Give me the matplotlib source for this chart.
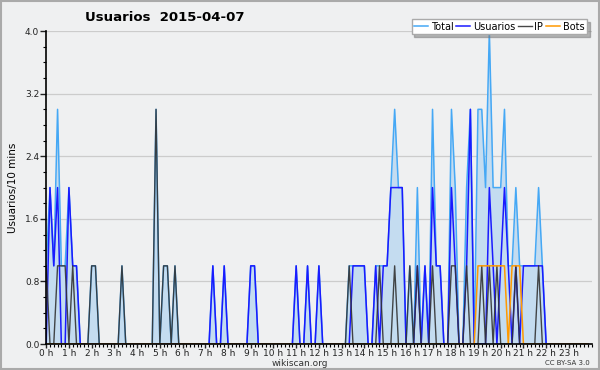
import matplotlib
matplotlib.use("Agg")
import matplotlib.pyplot as plt
from matplotlib.patches import Rectangle
from matplotlib.ticker import MultipleLocator, FormatStrFormatter

# One value per 10 minutes, 0h00 .. 23h50 (24 values = 4 hours per row)
usuarios = [
    0, 2, 1, 2, 0, 0, 2, 1, 1, 0, 0, 0, 0, 0, 0, 0, 0, 0, 0, 0, 0, 0, 0, 0,
    0, 0, 0, 0, 0, 0, 0, 0, 0, 0, 0, 0, 0, 0, 0, 0, 0, 0, 0, 0, 1, 0, 0, 1,
    0, 0, 0, 0, 0, 0, 1, 1, 0, 0, 0, 0, 0, 0, 0, 0, 0, 0, 1, 0, 0, 1, 0, 0,
    1, 0, 0, 0, 0, 0, 0, 0, 0, 1, 1, 1, 1, 0, 0, 1, 0, 1, 1, 2, 2, 2, 2, 0,
    0, 0, 1, 0, 1, 0, 2, 1, 1, 0, 0, 2, 1, 0, 0, 1, 3, 0, 0, 0, 0, 2, 1, 0,
    1, 2, 1, 0, 1, 0, 1, 1, 1, 1, 1, 1, 0, 0, 0, 0, 0, 0, 0, 0, 0, 0, 0, 0,
]
ip = [
    1, 0, 0, 1, 1, 1, 0, 1, 0, 0, 0, 0, 1, 1, 0, 0, 0, 0, 0, 0, 1, 0, 0, 0,
    0, 0, 0, 0, 0, 3, 0, 1, 1, 0, 1, 0, 0, 0, 0, 0, 0, 0, 0, 0, 0, 0, 0, 0,
    0, 0, 0, 0, 0, 0, 0, 0, 0, 0, 0, 0, 0, 0, 0, 0, 0, 0, 0, 0, 0, 0, 0, 0,
    0, 0, 0, 0, 0, 0, 0, 0, 1, 0, 0, 0, 0, 0, 0, 0, 1, 0, 0, 0, 1, 0, 0, 0,
    1, 0, 1, 0, 0, 0, 1, 0, 0, 0, 0, 1, 1, 0, 0, 1, 0, 0, 0, 1, 0, 1, 0, 1,
    0, 0, 0, 0, 1, 0, 0, 0, 0, 0, 1, 0, 0, 0, 0, 0, 0, 0, 0, 0, 0, 0, 0, 0,
]
bots = [
    0, 0, 0, 0, 0, 0, 0, 0, 0, 0, 0, 0, 0, 0, 0, 0, 0, 0, 0, 0, 0, 0, 0, 0,
    0, 0, 0, 0, 0, 0, 0, 0, 0, 0, 0, 0, 0, 0, 0, 0, 0, 0, 0, 0, 0, 0, 0, 0,
    0, 0, 0, 0, 0, 0, 0, 0, 0, 0, 0, 0, 0, 0, 0, 0, 0, 0, 0, 0, 0, 0, 0, 0,
    0, 0, 0, 0, 0, 0, 0, 0, 0, 0, 0, 0, 0, 0, 0, 0, 0, 0, 0, 0, 0, 0, 0, 0,
    0, 0, 0, 0, 0, 0, 0, 0, 0, 0, 0, 0, 0, 0, 0, 0, 0, 0, 1, 1, 1, 1, 1, 1,
    1, 1, 0, 1, 1, 1, 0, 0, 0, 0, 0, 0, 0, 0, 0, 0, 0, 0, 0, 0, 0, 0, 0, 0,
]
total = [
    1, 2, 1, 3, 1, 1, 2, 1, 1, 0, 0, 0, 1, 1, 0, 0, 0, 0, 0, 0, 1, 0, 0, 0,
    0, 0, 0, 0, 0, 3, 0, 1, 1, 0, 1, 0, 0, 0, 0, 0, 0, 0, 0, 0, 1, 0, 0, 1,
    0, 0, 0, 0, 0, 0, 1, 1, 0, 0, 0, 0, 0, 0, 0, 0, 0, 0, 1, 0, 0, 1, 0, 0,
    1, 0, 0, 0, 0, 0, 0, 0, 1, 1, 1, 1, 1, 0, 0, 1, 1, 1, 1, 2, 3, 2, 2, 0,
    1, 0, 2, 0, 1, 0, 3, 1, 1, 0, 0, 3, 2, 0, 0, 2, 3, 0, 3, 3, 2, 4, 2, 2,
    2, 3, 1, 1, 2, 1, 1, 1, 1, 1, 2, 1, 0, 0, 0, 0, 0, 0, 0, 0, 0, 0, 0, 0,
]
hours = [i / 6 for i in range(len(total))]
hour_labels = ["%d h" % h for h in range(24)]

bg = "#eff0f1"
fig = plt.figure(figsize=(6, 3.7), dpi=100, facecolor=bg)
ax = fig.add_axes([0.077, 0.070, 0.909, 0.846], facecolor=bg)

# Filled area under the total, then the four lines
ax.fill_between(hours, total, color="#c4dcf0", lw=0)
ax.plot(hours, total, color="#45a8f5", lw=1.1, label="Total")
ax.plot(hours, usuarios, color="#1a1aff", lw=1.1, label="Usuarios")
ax.plot(hours, ip, color="#333333", lw=1.0, alpha=0.9, label="IP")
ax.plot(hours, bots, color="#ff9900", lw=1.1, label="Bots")

ax.set_xlim(0, 24)
ax.set_ylim(0, 4.0)
ax.yaxis.set_major_locator(MultipleLocator(0.8))
ax.yaxis.set_minor_locator(MultipleLocator(0.2))
ax.yaxis.set_major_formatter(FormatStrFormatter("%.1f"))
ax.set_xticks(range(24))
ax.set_xticklabels(hour_labels)
ax.xaxis.set_minor_locator(MultipleLocator(1 / 6))
ax.grid(axis="y", color="#cccccc", lw=0.9)
ax.set_axisbelow(True)

for s in ["top", "right"]:
    ax.spines[s].set_visible(False)
ax.spines["left"].set_linewidth(1.2)
ax.spines["bottom"].set_linewidth(1.2)
ax.tick_params(axis="both", labelsize=6.5, colors="#222222", length=4, width=1, pad=1)
ax.tick_params(axis="x", length=3, pad=0.5)
ax.tick_params(axis="both", which="minor", length=2.5, width=0.8)

ax.set_ylabel("Usuarios/10 mins", fontsize=7.5, labelpad=5)

# Title and footer text
fig.text(0.275, 0.953, "Usuarios  2015-04-07", fontsize=9.5, fontweight="bold",
         ha="center", va="center")
fig.text(0.5, 0.018, "wikiscan.org", fontsize=6.5, ha="center", va="center", color="#333333")
fig.text(0.983, 0.018, "CC BY-SA 3.0", fontsize=5, ha="right", va="center", color="#333333")

# Legend in the top right corner with a dark shadow
leg = fig.legend(loc="upper right", bbox_to_anchor=(0.978, 0.948), ncol=4,
                 fontsize=7, frameon=True, fancybox=False, shadow={"color": "#777777"},
                 handlelength=1.4, handletextpad=0.3, columnspacing=0.3,
                 borderpad=0.25, borderaxespad=0)
leg.get_frame().set_edgecolor("#aaaaaa")
leg.get_frame().set_facecolor("white")

# Grey border round the picture
fig.patches.append(Rectangle((0.001, 0.002), 0.997, 0.995, transform=fig.transFigure,
                             fill=False, edgecolor="#aaaaaa", lw=1.5))

plt.savefig("out.png", dpi=100, facecolor=bg)
